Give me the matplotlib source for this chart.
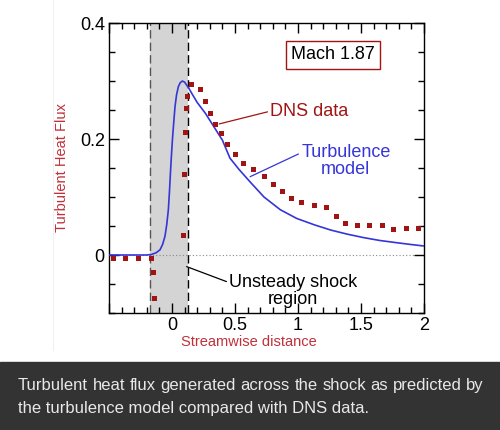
import numpy as np
import matplotlib
matplotlib.use("Agg")
import matplotlib.pyplot as plt
from matplotlib.ticker import MultipleLocator

plt.rcParams['font.family'] = ['Liberation Sans', 'DejaVu Sans']

# turbulence model curve
model_x = [-0.5, -0.2, -0.161, -0.125, -0.095, -0.075, -0.056, -0.042, -0.029, -0.02,
           -0.011, -0.003, 0.005, 0.015, 0.024, 0.036, 0.05, 0.065, 0.082, 0.1,
           0.116, 0.135, 0.156, 0.2, 0.266, 0.33, 0.40, 0.46, 0.53, 0.62,
           0.73, 0.86, 0.99, 1.13, 1.26, 1.39, 1.52, 1.65, 1.79, 1.9, 2.0]
model_y = [0.0, 0.0, 0.001, 0.004, 0.009, 0.018, 0.032, 0.052, 0.078, 0.11,
           0.147, 0.177, 0.204, 0.232, 0.256, 0.276, 0.29, 0.297, 0.30, 0.298,
           0.293, 0.287, 0.279, 0.263, 0.244, 0.222, 0.198, 0.167, 0.148, 0.126,
           0.10, 0.078, 0.063, 0.052, 0.043, 0.036, 0.030, 0.025, 0.021, 0.018, 0.0155]

# DNS data squares
dns_x = [-0.47, -0.37, -0.27, -0.167, -0.148, -0.14, 0.09, 0.098, 0.106, 0.114,
         0.12, 0.15, 0.22, 0.26, 0.30, 0.34, 0.385, 0.44, 0.50, 0.56,
         0.645, 0.73, 0.80, 0.87, 0.945, 1.02, 1.125, 1.225, 1.30, 1.37,
         1.465, 1.565, 1.665, 1.755, 1.855, 1.95]
dns_y = [-0.005, -0.005, -0.005, -0.005, -0.030, -0.074, 0.035, 0.140, 0.212, 0.254,
         0.275, 0.294, 0.287, 0.266, 0.245, 0.226, 0.21, 0.191, 0.174, 0.159,
         0.148, 0.136, 0.122, 0.110, 0.099, 0.091, 0.086, 0.082, 0.067, 0.055,
         0.052, 0.052, 0.051, 0.045, 0.047, 0.047]

shock_lo, shock_hi = -0.175, 0.125
xtick_vals = [-0.5, 0, 0.5, 1, 1.5, 2]
xtick_labels = ['', '0', '0.5', '1', '1.5', '2']
ytick_vals = [0, 0.2, 0.4]
ytick_labels = ['0', '0.2', '0.4']

caption1 = "Turbulent heat flux generated across the shock as predicted by"
caption2 = "the turbulence model compared with DNS data."

red_dark = '#a01414'
red_label = '#c0303a'
blue = '#3535d8'

fig = plt.figure(figsize=(5, 4.3), dpi=100)
fig.patch.set_facecolor('white')

# faint panel edge and caption band
fig.add_artist(plt.Line2D([53/500, 53/500], [80/430, 1], color='#f0f0f0', lw=0.8))
fig.add_artist(plt.Rectangle((0, 0), 1, 68/430, color='#333333', transform=fig.transFigure))

ax = fig.add_axes([109/500, 117/430, 315/500, 290/430])
ax.set_xlim(-0.5, 2)
ax.set_ylim(-0.1, 0.4)

ax.axvspan(shock_lo, shock_hi, color='#d4d4d4', lw=0, zorder=0)
ax.axvline(shock_lo, color='#555555', lw=1, ls=(0, (6, 3)), zorder=1)
ax.axvline(shock_hi, color='black', lw=1, ls=(0, (6, 3)), zorder=1)
ax.axhline(0, color='#888888', lw=0.8, ls=(0, (1, 2)), zorder=1)

ax.plot(model_x, model_y, color=blue, lw=1.2, zorder=3)
ax.plot(dns_x, dns_y, 's', color=red_dark, ms=3.6, mew=0, zorder=4)

ax.set_xticks(xtick_vals)
ax.set_xticklabels(xtick_labels)
ax.set_yticks(ytick_vals)
ax.set_yticklabels(ytick_labels)
ax.xaxis.set_minor_locator(MultipleLocator(0.1))
ax.yaxis.set_minor_locator(MultipleLocator(0.05))
ax.tick_params(which='both', direction='in', top=True, right=True, width=1, labelsize=13, colors='black')
ax.tick_params(which='major', length=7, pad=3)
ax.tick_params(which='minor', length=4)
for s in ax.spines.values():
    s.set_linewidth(1)

ax.set_ylabel('Turbulent Heat Flux', color=red_label, fontsize=10.5)
ax.yaxis.set_label_coords(-(109 - 69) / 315, 0.5)
ax.set_xlabel('Streamwise distance', color=red_label, fontsize=10.5)
ax.xaxis.set_label_coords((249 - 109) / 315, -(335 - 313) / 290)

ax.text(1.278, 0.345, 'Mach 1.87', fontsize=13, ha='center', va='center',
        bbox=dict(boxstyle='square,pad=0.3', fc='white', ec=red_dark, lw=1))

ax.annotate('DNS data', xy=(0.375, 0.226), xytext=(0.78, 0.248), color=red_dark,
            fontsize=13, ha='left', va='center',
            arrowprops=dict(arrowstyle='-', color=red_dark, lw=0.9, relpos=(0, 0.5),
                            shrinkA=0, shrinkB=0))
ax.annotate('Turbulence\nmodel', xy=(0.62, 0.135), xytext=(1.38, 0.162), color=blue,
            fontsize=13, ha='center', va='center', linespacing=0.95,
            arrowprops=dict(arrowstyle='-', color=blue, lw=0.9, relpos=(0, 0.75),
                            shrinkA=0, shrinkB=0))
ax.annotate('Unsteady shock\nregion', xy=(0.116, -0.020), xytext=(0.963, -0.062),
            color='black', fontsize=13, ha='center', va='center', linespacing=0.95,
            arrowprops=dict(arrowstyle='-', color='black', lw=0.9, relpos=(0, 0.75),
                            shrinkA=0, shrinkB=0))

# caption, first line justified
cap_color = '#e8e8e8'
left_px, right_px = 18, 484
renderer = fig.canvas.get_renderer()
words = caption1.split()
texts = [fig.text(0, 40/430, w, color=cap_color, fontsize=12, va='baseline') for w in words]
widths = [t.get_window_extent(renderer).width for t in texts]
gap = (right_px - left_px - sum(widths)) / (len(words) - 1)
xpos = left_px
for t, w in zip(texts, widths):
    t.set_x(xpos / 500)
    xpos += w + gap
fig.text(left_px / 500, 17/430, caption2, color=cap_color, fontsize=12, va='baseline')

fig.savefig('out.png', dpi=100)
